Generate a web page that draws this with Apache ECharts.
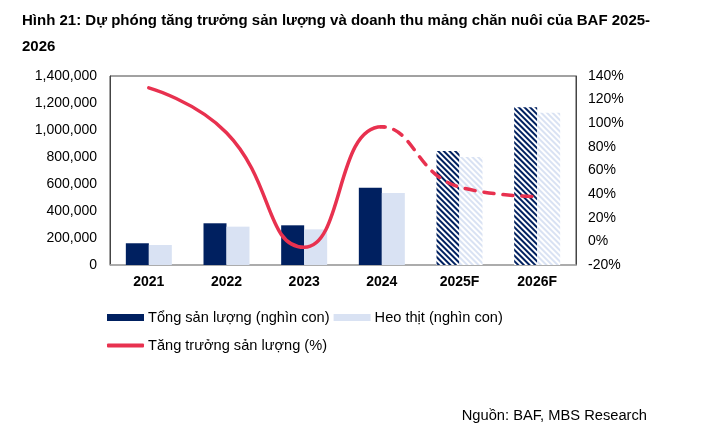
<!DOCTYPE html>
<html><head><meta charset="utf-8">
<script src="https://cdn.jsdelivr.net/npm/echarts@6/dist/echarts.min.js"></script>
<style>html,body{margin:0;padding:0;background:#fff}#c{width:719px;height:439px}</style>
</head><body><div id="c"></div>
<script>
var categories = ['2021','2022','2023','2024','2025F','2026F'];
var totalOutput = [161000, 309000, 294000, 573000, 844000, 1168000];
var porkOutput = [148000, 284000, 264000, 533000, 800000, 1128000];
var growth = [130, 92, -5, 97, 46, 38];
var forecastFlags = [false, false, false, false, true, true];
var leftTicks = {min: 0, max: 1400000, interval: 200000};
var rightTicks = {min: -20, max: 140, interval: 20};

var NAVY = '#002060', LIGHT = '#D9E2F3', RED = '#E8314F';
var font = 'Liberation Sans, Arial, sans-serif';

var G = {left: 110, right: 143, top: 76, bottom: 174};
var plotW = 719 - G.left - G.right;
var n = categories.length;
var firstForecast = forecastFlags.indexOf(true);
var splitIdx = firstForecast - 1; // last actual point
var splitX = G.left + plotW * (splitIdx + 0.5) / n;

function barData(vals, hatchColor) {
  return vals.map(function (v, i) {
    if (!forecastFlags[i]) return v;
    return {value: v, itemStyle: {color: '#ffffff', decal: {symbol: 'rect', color: hatchColor, dashArrayX: [1, 0], dashArrayY: [1.3, 1.2], rotation: Math.PI / 4, symbolSize: 1}}};
  });
}
var growthPts = growth.map(function (v, i) { return [i, v]; });

var chart = echarts.init(document.getElementById('c'), null, {renderer: 'canvas'});
chart.setOption({
  animation: false,
  backgroundColor: '#fff',
  graphic: [{
    type: 'text', left: 22, top: 13,
    style: {text: 'Hình 21: Dự phóng tăng trưởng sản lượng và doanh thu mảng chăn nuôi của BAF 2025-', font: 'bold 15px ' + font, fill: '#000'}
  }, {
    type: 'text', left: 22, top: 39,
    style: {text: '2026', font: 'bold 15px ' + font, fill: '#000'}
  }, {
    type: 'text', right: 72, top: 408,
    style: {text: 'Nguồn: BAF, MBS Research', font: '14.7px ' + font, fill: '#000'}
  }],
  legend: [{
    data: ['Tổng sản lượng (nghìn con)', 'Heo thịt (nghìn con)'],
    left: 102, top: 305, itemWidth: 37, itemHeight: 7, itemGap: 4,
    icon: 'rect',
    textStyle: {fontFamily: font, fontSize: 14.6, color: '#000', padding: [0, 0, 0, -1]}
  }, {
    data: [{name: 'Tăng trưởng sản lượng (%)', icon: 'roundRect'}],
    left: 102, top: 333, itemWidth: 37, itemHeight: 4, itemGap: 4,
    textStyle: {fontFamily: font, fontSize: 14.6, color: '#000', padding: [0, 0, 0, -1]}
  }],
  grid: [
    {left: G.left, right: G.right, top: G.top, bottom: G.bottom, show: true, borderColor: '#444', borderWidth: 1, backgroundColor: 'transparent'},
    {left: G.left, width: splitX - G.left, top: G.top, bottom: G.bottom},
    {left: splitX, right: G.right, top: G.top, bottom: G.bottom}
  ],
  xAxis: [{
    type: 'category', data: categories, gridIndex: 0,
    axisLine: {lineStyle: {color: '#b0b0b0', width: 1.5}},
    axisTick: {show: false},
    axisLabel: {fontFamily: font, fontSize: 14, fontWeight: 'bold', color: '#000', margin: 10}
  }, {
    type: 'value', gridIndex: 1, min: -0.5, max: splitIdx, show: false
  }, {
    type: 'value', gridIndex: 2, min: splitIdx, max: n - 0.5, show: false
  }],
  yAxis: [{
    type: 'value', gridIndex: 0, min: leftTicks.min, max: leftTicks.max, interval: leftTicks.interval,
    splitLine: {show: false},
    axisLine: {show: true, lineStyle: {color: '#444'}},
    axisTick: {show: false},
    axisLabel: {fontFamily: font, fontSize: 14, color: '#000', margin: 13,
      formatter: function (v) { return v.toLocaleString('en-US'); }}
  }, {
    type: 'value', gridIndex: 0, position: 'right', min: rightTicks.min, max: rightTicks.max, interval: rightTicks.interval,
    splitLine: {show: false},
    axisLine: {show: true, lineStyle: {color: '#444'}},
    axisTick: {show: false},
    axisLabel: {fontFamily: font, fontSize: 14, color: '#000', margin: 12, formatter: '{value}%'}
  }, {
    type: 'value', gridIndex: 1, min: rightTicks.min, max: rightTicks.max, show: false
  }, {
    type: 'value', gridIndex: 2, min: rightTicks.min, max: rightTicks.max, show: false
  }],
  series: [{
    name: 'Tổng sản lượng (nghìn con)', type: 'bar', xAxisIndex: 0, yAxisIndex: 0,
    barWidth: 23, barGap: '0%',
    itemStyle: {color: NAVY},
    data: barData(totalOutput, NAVY)
  }, {
    name: 'Heo thịt (nghìn con)', type: 'bar', xAxisIndex: 0, yAxisIndex: 0,
    barWidth: 23, barGap: '0%',
    itemStyle: {color: LIGHT},
    data: barData(porkOutput, LIGHT)
  }, {
    name: 'Tăng trưởng sản lượng (%)', type: 'line', xAxisIndex: 1, yAxisIndex: 2,
    smooth: 0.5, showSymbol: false, symbol: 'none', z: 5, clip: true,
    lineStyle: {color: RED, width: 3.5, cap: 'round'},
    itemStyle: {color: RED},
    data: growthPts
  }, {
    name: 'growth-forecast', type: 'line', xAxisIndex: 2, yAxisIndex: 3,
    smooth: 0.5, showSymbol: false, symbol: 'none', z: 5, clip: true,
    lineStyle: {color: RED, width: 3.5, type: [10, 9], cap: 'round'},
    data: growthPts
  }]
});
</script></body></html>
